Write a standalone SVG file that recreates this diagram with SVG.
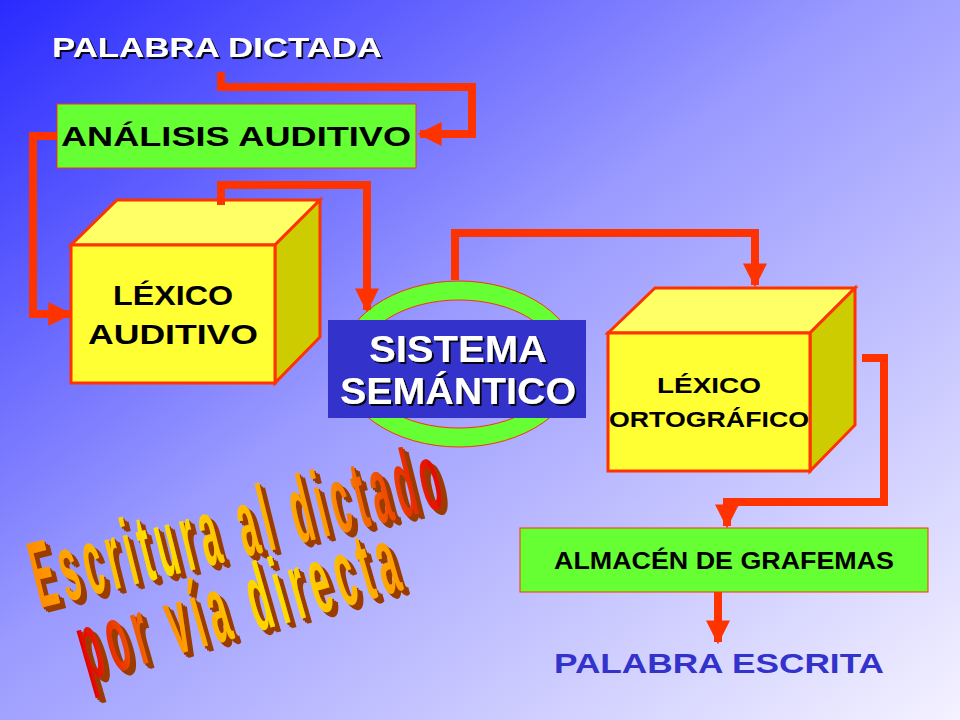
<svg xmlns="http://www.w3.org/2000/svg" width="960" height="720" viewBox="0 0 960 720">
<defs>
<linearGradient id="bg" x1="0" y1="0" x2="1" y2="1">
<stop offset="0" stop-color="#2a2aff"/><stop offset="0.45" stop-color="#9a9aff"/><stop offset="1" stop-color="#f4f2ff"/>
</linearGradient>
<linearGradient id="wa" x1="0" y1="0" x2="1" y2="0">
<stop offset="0" stop-color="#ff8a00"/><stop offset="0.3" stop-color="#ffe000"/><stop offset="0.7" stop-color="#ff9a00"/><stop offset="1" stop-color="#e00000"/>
</linearGradient>
<linearGradient id="wa2" x1="0" y1="0" x2="1" y2="0">
<stop offset="0" stop-color="#e00000"/><stop offset="0.3" stop-color="#ff9a00"/><stop offset="0.6" stop-color="#ffe000"/><stop offset="1" stop-color="#ff9a00"/>
</linearGradient>
<filter id="sh" x="-10%" y="-20%" width="120%" height="150%">
<feDropShadow dx="2" dy="2" stdDeviation="0.5" flood-color="#000" flood-opacity="0.9"/>
</filter>
<filter id="depth" x="-10%" y="-20%" width="130%" height="150%">
<feMorphology in="SourceAlpha" operator="dilate" radius="0" result="a"/>
<feOffset in="a" dx="2" dy="2" result="o1"/>
<feOffset in="a" dx="4" dy="4" result="o2"/>
<feOffset in="a" dx="6" dy="5" result="o3"/>
<feMerge result="m"><feMergeNode in="o1"/><feMergeNode in="o2"/><feMergeNode in="o3"/></feMerge>
<feFlood flood-color="#9a3a00"/>
<feComposite in2="m" operator="in" result="d"/>
<feMerge><feMergeNode in="d"/><feMergeNode in="SourceGraphic"/></feMerge>
</filter>
<marker id="ah" viewBox="0 0 10 10" refX="9" refY="5" markerWidth="3" markerHeight="3" orient="auto" markerUnits="strokeWidth">
<path d="M0,0 L10,5 L0,10 z" fill="#ff3300"/>
</marker>
<style>
.c{fill:none;stroke:#ff3300;stroke-width:8}
.box{fill:#66ff33;stroke:#ff3300;stroke-width:1}
.lbl{font-family:"Liberation Sans",Arial,sans-serif;font-weight:700;fill:#000;text-anchor:middle}
.front{fill:#ffff33;stroke:#ff3300;stroke-width:3}
.top{fill:#ffff66;stroke:#ff3300;stroke-width:3}
.side{fill:#cccc00;stroke:#ff3300;stroke-width:3}
.wa{font-family:"Liberation Sans Narrow","Liberation Sans",Arial,sans-serif;font-weight:700;font-size:50px}
</style>
</defs>
<rect width="960" height="720" fill="url(#bg)"/>

<g id="palabra-dictada">
<text x="217" y="57" class="lbl" font-size="28" style="fill:#fff" filter="url(#sh)" textLength="330" lengthAdjust="spacingAndGlyphs">PALABRA DICTADA</text>
</g>

<g id="analisis"><rect x="57" y="104" width="359" height="64" class="box"/><text x="236" y="146" class="lbl" font-size="27" textLength="350" lengthAdjust="spacingAndGlyphs">ANÁLISIS  AUDITIVO</text></g>

<g id="lexico-auditivo">
<polygon points="71,245 117,200 320,200 275,245" class="top"/>
<polygon points="275,245 320,200 320,337 275,383" class="side"/>
<rect x="71" y="245" width="204" height="138" class="front"/>
<text x="173" y="305" class="lbl" font-size="27" textLength="120" lengthAdjust="spacingAndGlyphs">LÉXICO</text>
<text x="173" y="344" class="lbl" font-size="27" textLength="170" lengthAdjust="spacingAndGlyphs">AUDITIVO</text>
</g>

<g id="sistema-semantico">
<path d="M340,364 a119,83 0 1,0 238,0 a119,83 0 1,0 -238,0 z M358,364 a101,64 0 1,1 202,0 a101,64 0 1,1 -202,0 z" fill="#66ff33" fill-rule="evenodd" stroke="#ff3300" stroke-width="1"/>
<rect x="328" y="320" width="258" height="98" fill="#3333cc"/>
<text x="458" y="362" class="lbl" font-size="36" style="fill:#fff" filter="url(#sh)" textLength="178" lengthAdjust="spacingAndGlyphs">SISTEMA</text>
<text x="458" y="404" class="lbl" font-size="36" style="fill:#fff" filter="url(#sh)" textLength="236" lengthAdjust="spacingAndGlyphs">SEMÁNTICO</text>
</g>

<g id="lexico-ortografico">
<polygon points="608,333 655,288 855,288 810,333" class="top"/>
<polygon points="810,333 855,288 855,425 810,471" class="side"/>
<rect x="608" y="333" width="202" height="138" class="front"/>
<text x="709" y="393" class="lbl" font-size="22" textLength="104" lengthAdjust="spacingAndGlyphs">LÉXICO</text>
<text x="709" y="427" class="lbl" font-size="22" textLength="200" lengthAdjust="spacingAndGlyphs">ORTOGRÁFICO</text>
</g>

<g id="almacen"><rect x="520" y="528" width="408" height="64" class="box"/><text x="724" y="569" class="lbl" font-size="23" textLength="340" lengthAdjust="spacingAndGlyphs">ALMACÉN DE GRAFEMAS</text></g>

<g id="palabra-escrita"><text x="719" y="673" class="lbl" font-size="28" style="fill:#3333cc" textLength="330" lengthAdjust="spacingAndGlyphs">PALABRA ESCRITA</text></g>

<g id="connectors">
<polyline class="c" points="221,72 221,87 472,87 472,134 420,134" marker-end="url(#ah)"/>
<polyline class="c" points="57,136 33,136 33,314 70,314" marker-end="url(#ah)"/>
<polyline class="c" points="221,205 221,185 367,185 367,310" marker-end="url(#ah)"/>
<polyline class="c" points="455,280 455,233 755,233 755,285" marker-end="url(#ah)"/>
<polyline class="c" points="862,358 884,358 884,502 727,502 727,526" marker-end="url(#ah)"/>
<polyline class="c" points="718,592 718,642" marker-end="url(#ah)"/>
</g>

<g id="wordart" filter="url(#depth)">
<g transform="translate(40,608) rotate(-14) scale(1,1.9)">
<text class="wa" x="0" y="0" fill="url(#wa)" textLength="425" lengthAdjust="spacingAndGlyphs" letter-spacing="9">Escritura al dictado</text>
</g>
<g transform="translate(88,680) rotate(-16) scale(1,1.9)">
<text class="wa" x="0" y="0" fill="url(#wa2)" textLength="335" lengthAdjust="spacingAndGlyphs" letter-spacing="9">por vía directa</text>
</g>
</g>
</svg>
